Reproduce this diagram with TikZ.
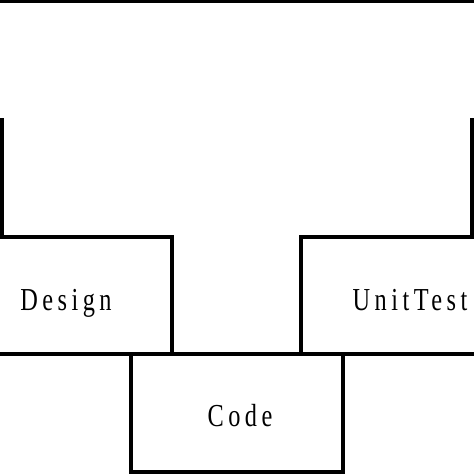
\documentclass[tikz,border=0pt]{standalone}
\usepackage{fontspec}
\setmainfont{Liberation Serif}[FakeStretch=0.76,LetterSpace=14]
\begin{document}
\begin{tikzpicture}[x=1pt,y=-1pt,
  boxstyle/.style={draw=black,line width=4pt,rectangle,inner sep=0pt,outer sep=0pt,anchor=north west},
  linestyle/.style={draw=black,line width=4pt},
  lbl/.style={anchor=base,inner sep=0pt,font=\fontsize{32}{38}\selectfont}]
\useasboundingbox[fill=white] (0,0) rectangle (474,474);
% boxes
\node[boxstyle,minimum width=212pt,minimum height=117pt] (design) at (-40,237) {};
\node[boxstyle,minimum width=218pt,minimum height=117pt] (unit) at (301,237) {};
\node[boxstyle,minimum width=212pt,minimum height=118pt] (code) at (131,354) {};
% labels
\node[lbl] (designT) at (66,310) {Design};
\node[lbl] (unitT) at (410,310) {UnitTest};
\node[lbl] (codeT) at (240,426) {Code};
% top line and side lines
\coordinate (tl) at (-20,1);
\coordinate (tr) at (494,1);
\draw[linestyle] (tl) -- (tr);
\coordinate (lt) at (2,118);
\coordinate (lb) at (2,237);
\coordinate (rt) at (472,118);
\coordinate (rb) at (472,237);
\draw[linestyle] (lt) -- (lb);
\draw[linestyle] (rt) -- (rb);
\end{tikzpicture}
\end{document}
